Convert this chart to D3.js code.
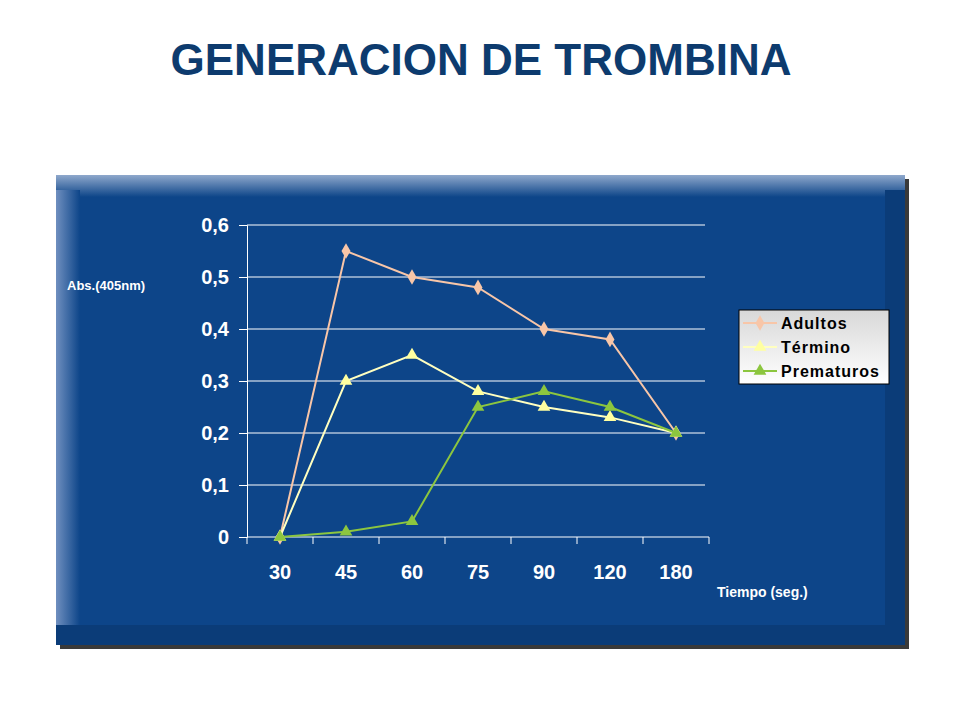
<!DOCTYPE html>
<html><head><meta charset="utf-8">
<script src="https://cdn.jsdelivr.net/npm/d3@7"></script>
<style>body{margin:0;background:#fff}svg{font-family:Arial,"Liberation Sans",sans-serif}</style>
</head><body>
<svg id="chart" width="960" height="720"></svg>
<script>
const categories = ["30","45","60","75","90","120","180"];
const adultos = [0, 0.55, 0.5, 0.48, 0.4, 0.38, 0.2];
const termino = [0, 0.3, 0.35, 0.28, 0.25, 0.23, 0.2];
const prematuros = [0, 0.01, 0.03, 0.25, 0.28, 0.25, 0.2];
const yTicks = [0, 0.1, 0.2, 0.3, 0.4, 0.5, 0.6];

const series = [
  {name: "Adultos", values: adultos, line: "#f8c6a8", fill: "#f8c6a8", shape: d3.symbolDiamond},
  {name: "Término", values: termino, line: "#ffffc0", fill: "#ffffa0", shape: d3.symbolTriangle},
  {name: "Prematuros", values: prematuros, line: "#8cc63f", fill: "#8cc63f", shape: d3.symbolTriangle}
];

const svg = d3.select("#chart");
const defs = svg.append("defs");

// panel shading: lighter bevel on top and left
const gTop = defs.append("linearGradient").attr("id", "gtop").attr("x1", 0).attr("y1", 0).attr("x2", 0).attr("y2", 1);
gTop.append("stop").attr("offset", 0).attr("stop-color", "#8fa8cc");
gTop.append("stop").attr("offset", 1).attr("stop-color", "#0d4589");
const gLeft = defs.append("linearGradient").attr("id", "gleft").attr("x1", 0).attr("y1", 0).attr("x2", 1).attr("y2", 0);
gLeft.append("stop").attr("offset", 0).attr("stop-color", "#6f8fbf");
gLeft.append("stop").attr("offset", 1).attr("stop-color", "#0d4589");
const gLeg = defs.append("linearGradient").attr("id", "gleg").attr("x1", 0).attr("y1", 0).attr("x2", 0).attr("y2", 1);
gLeg.append("stop").attr("offset", 0).attr("stop-color", "#d8d8d8");
gLeg.append("stop").attr("offset", 1).attr("stop-color", "#ffffff");

svg.append("text").attr("x", 481).attr("y", 75).attr("text-anchor", "middle")
  .attr("font-size", 44).attr("font-weight", "bold").attr("fill", "#0d3b6e")
  .text("GENERACION DE TROMBINA");

// panel
svg.append("rect").attr("x", 60).attr("y", 179).attr("width", 849).attr("height", 470).attr("fill", "#3a3a3a");
svg.append("rect").attr("x", 56).attr("y", 175).attr("width", 849).attr("height", 470).attr("fill", "#0d4589");
svg.append("rect").attr("x", 56).attr("y", 175).attr("width", 849).attr("height", 22).attr("fill", "url(#gtop)");
svg.append("rect").attr("x", 56).attr("y", 190).attr("width", 24).attr("height", 455).attr("fill", "url(#gleft)");
svg.append("rect").attr("x", 56).attr("y", 625).attr("width", 849).attr("height", 20).attr("fill", "#0b3c78");
svg.append("rect").attr("x", 885).attr("y", 190).attr("width", 20).attr("height", 455).attr("fill", "#0b3c78");

const x = d3.scaleBand().domain(categories).range([247, 709]);
const y = d3.scaleLinear().domain([0, 0.6]).range([537, 225]);
const fmt = d => d3.format(".1f")(d).replace(".", ",").replace(/^0,0$/, "0");

// gridlines
svg.append("g").selectAll("line").data(yTicks.slice(1)).join("line")
  .attr("x1", 247).attr("x2", 705).attr("y1", d => y(d)).attr("y2", d => y(d))
  .attr("stroke", "#fff").attr("stroke-width", 1);

const yAxis = svg.append("g").attr("transform", "translate(247,0)")
  .call(d3.axisLeft(y).tickValues(yTicks).tickSize(8).tickPadding(10).tickFormat(d => d === 0 ? "0" : fmt(d)));
const xAxis = svg.append("g").attr("transform", "translate(0,537)")
  .call(d3.axisBottom(x).tickSize(0).tickPadding(28));
xAxis.selectAll(".tick").append("line").attr("x1", x.bandwidth() / 2).attr("x2", x.bandwidth() / 2).attr("y2", 7).attr("stroke", "#fff");
xAxis.append("line").attr("x1", 247).attr("x2", 247).attr("y2", 7).attr("stroke", "#fff");
[yAxis, xAxis].forEach(a => {
  a.selectAll("path,line").attr("stroke", "#fff");
  a.selectAll("text").attr("fill", "#fff").attr("font-size", 20).attr("font-weight", "bold").attr("font-family", "Arial,Liberation Sans,sans-serif");
});
xAxis.select(".domain").attr("d", "M247,0H709");

svg.append("text").attr("x", 67).attr("y", 290).attr("fill", "#fff").attr("font-size", 13).attr("font-weight", "bold").text("Abs.(405nm)");
svg.append("text").attr("x", 717).attr("y", 597).attr("fill", "#fff").attr("font-size", 14).attr("font-weight", "bold").text("Tiempo (seg.)");

const cx = d => x(d) + x.bandwidth() / 2;
const line = d3.line().x((v, i) => cx(categories[i])).y(v => y(v));
series.forEach(s => {
  svg.append("path").attr("d", line(s.values)).attr("fill", "none").attr("stroke", s.line).attr("stroke-width", 2);
  svg.append("g").selectAll("path").data(s.values).join("path")
    .attr("transform", (v, i) => `translate(${cx(categories[i])},${y(v)})`)
    .attr("d", d3.symbol().type(s.shape).size(70)).attr("fill", s.fill);
});

// legend
const leg = svg.append("g").attr("transform", "translate(739,310)");
leg.append("rect").attr("width", 150).attr("height", 74).attr("fill", "url(#gleg)").attr("stroke", "#000");
series.forEach((s, i) => {
  const g = leg.append("g").attr("transform", `translate(0,${13 + i * 24})`);
  g.append("line").attr("x1", 4).attr("x2", 38).attr("stroke", s.line).attr("stroke-width", 2);
  g.append("path").attr("transform", "translate(21,0)").attr("d", d3.symbol().type(s.shape).size(70)).attr("fill", s.fill);
  g.append("text").attr("x", 42).attr("y", 6).attr("font-size", 16).attr("font-weight", "bold").attr("letter-spacing", 1).text(s.name);
});
</script>
</body></html>
